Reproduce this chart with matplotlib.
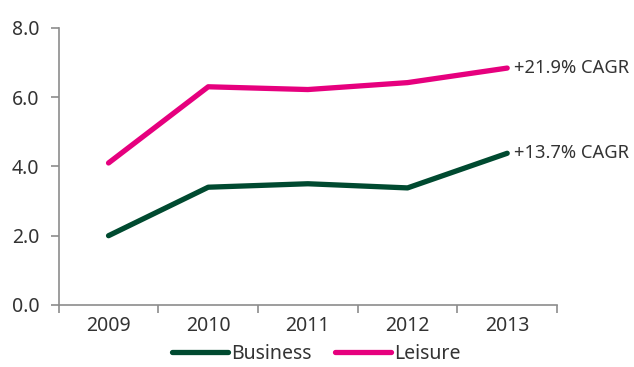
import numpy as np
import matplotlib.pyplot as plt
from matplotlib.ticker import FixedLocator

plt.rcParams['font.family'] = ['Noto Sans', 'DejaVu Sans']

years = ['2009', '2010', '2011', '2012', '2013']
business = [2.0, 3.4, 3.5, 3.38, 4.38]
leisure = [4.1, 6.3, 6.22, 6.42, 6.84]
cagr_business = '+13.7% CAGR'
cagr_leisure = '+21.9% CAGR'

green = '#004a30'
pink = '#e6007e'
axis_grey = '#8c8c8c'
text_col = '#333333'

fig = plt.figure(figsize=(6.34, 3.67), dpi=100)
ax = fig.add_axes([0.0926, 0.169, 0.786, 0.755])

x = np.arange(len(years))
ax.plot(x, business, color=green, lw=3.8, solid_capstyle='round',
        solid_joinstyle='round', label='Business')
ax.plot(x, leisure, color=pink, lw=3.8, solid_capstyle='round',
        solid_joinstyle='round', label='Leisure')

# growth labels next to the last point of each line
ax.annotate(cagr_leisure, (x[-1], leisure[-1]), xytext=(5, 0),
            textcoords='offset points', va='center', ha='left',
            fontsize=13.2, color=text_col, annotation_clip=False)
ax.annotate(cagr_business, (x[-1], business[-1]), xytext=(5, 0),
            textcoords='offset points', va='center', ha='left',
            fontsize=13.2, color=text_col, annotation_clip=False)

ax.set_xlim(-0.5, len(years) - 0.5)
ax.set_ylim(0, 8)
ax.set_yticks([0, 2, 4, 6, 8])
ax.set_yticklabels(['0.0', '2.0', '4.0', '6.0', '8.0'])
ax.set_xticks(x)
ax.set_xticklabels(years)
ax.xaxis.set_minor_locator(FixedLocator(np.arange(-0.5, len(years), 1)))

ax.tick_params(axis='x', which='major', length=0, pad=8, labelsize=14,
               labelcolor=text_col)
ax.tick_params(axis='x', which='minor', length=6, width=1.2, color=axis_grey)
ax.tick_params(axis='y', length=6, width=1.2, color=axis_grey, pad=8,
               labelsize=14, labelcolor=text_col)

for side in ['top', 'right']:
    ax.spines[side].set_visible(False)
for side in ['left', 'bottom']:
    ax.spines[side].set_color(axis_grey)
    ax.spines[side].set_linewidth(1.2)

leg = ax.legend(loc='upper center', bbox_to_anchor=(0.517, -0.14), ncol=2,
                frameon=False, fontsize=14, handlelength=2.9,
                handletextpad=0.15, columnspacing=1.2, borderaxespad=0,
                borderpad=0)
for t in leg.get_texts():
    t.set_color(text_col)

fig.savefig('out.png', dpi=100)
